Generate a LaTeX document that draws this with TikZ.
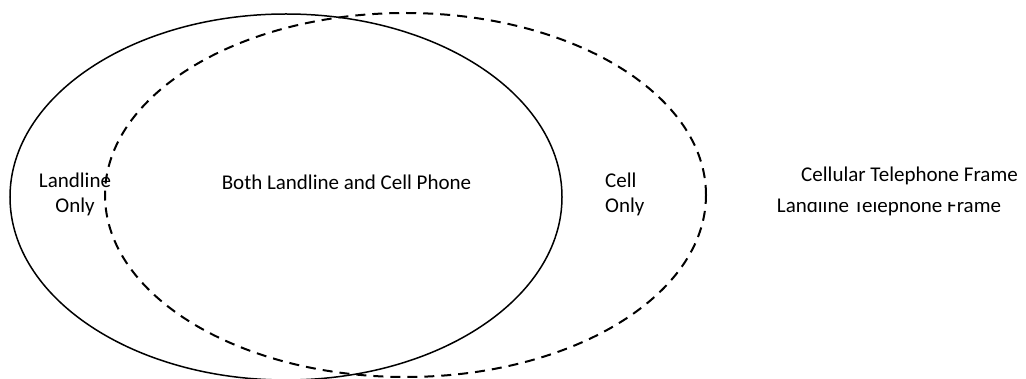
\documentclass[tikz,border=0pt]{standalone}
\usepackage{fontspec}
\setmainfont{Carlito}
\begin{document}
\begin{tikzpicture}[x=1pt,y=-1pt,
  lbl/.style={font=\fontsize{21}{25}\selectfont, inner sep=0pt, anchor=base},
  solidset/.style={draw=black, line width=1.5pt},
  dashset/.style={draw=black, line width=2pt, dash pattern=on 10pt off 7pt}]
\useasboundingbox (0,0) rectangle (1026,379);
\begin{scope}
\clip (0,0) rectangle (1026,379);
\path[solidset] (286,197) ellipse [x radius=276pt, y radius=183pt];
\path[dashset] (405.5,195) ellipse [x radius=300.5pt, y radius=182pt];
\end{scope}
\node[lbl, align=center] (lonly) at (75,213) {Landline\\Only};
\node[lbl] (both) at (346.5,190) {Both Landline and Cell Phone};
\node[lbl, align=left, anchor=base west] (conly) at (605,213) {Cell\\Only};
\node[lbl] (lframe) at (889,213) {Landline Telephone Frame};
\node[lbl, fill=white, text depth=20pt] (cframe) at (909.5,182) {Cellular Telephone Frame};
\end{tikzpicture}
\end{document}
